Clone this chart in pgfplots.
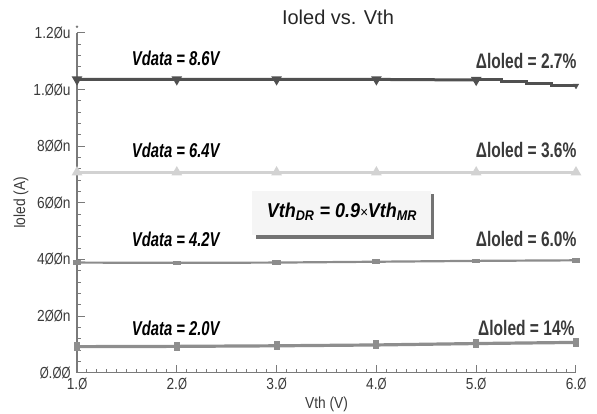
\documentclass[border=0pt]{standalone}
\usepackage{fontspec}
\setmainfont{Liberation Sans}
\newfontfamily\narrow[FakeStretch=0.74]{Liberation Sans}
\newfontfamily\semi[FakeStretch=0.86]{Liberation Sans}
\newfontfamily\zf[FakeStretch=0.72]{Liberation Sans}
\newfontfamily\boxf[FakeStretch=0.9]{Liberation Sans}
\newcommand\z{{\zf Ø}}
\usepackage{pgfplots}
\pgfplotsset{compat=1.18}
\definecolor{cA}{HTML}{505050}
\definecolor{cB}{HTML}{D2D2D2}
\definecolor{cC}{HTML}{8C8C8C}
\definecolor{cD}{HTML}{8E8E8E}
\definecolor{axc}{HTML}{7A7A7A}
\definecolor{txt}{HTML}{3A3A3A}
\begin{document}
\begin{tikzpicture}
\begin{axis}[
  scale only axis, width=499pt, height=339.7pt,
  anchor=south west, at={(0,0)},
  xmin=1, xmax=6, ymin=0, ymax=1.2,
  axis x line=bottom, axis y line=left,
  axis line style={-, axc, line width=1.2pt},
  tick align=inside,
  major tick length=8pt, minor tick length=4pt,
  tick style={axc, line width=1pt},
  xtick={1,2,3,4,5,6},
  xticklabels={1.\z,2.\z,3.\z,4.\z,5.\z,6.\z},
  ytick={0,0.2,0.4,0.6,0.8,1.0,1.2},
  yticklabels={\z.\z\z,2\z\z n,4\z\z n,6\z\z n,8\z\z n,1.\z\z u,1.2\z u},
  minor x tick num=9, minor y tick num=4,
  ticklabel style={font=\semi\fontsize{16}{16}\selectfont, text=txt},
  xticklabel style={yshift=-2pt},
  yticklabel style={xshift=-3pt},
  xlabel={Vth (V)}, ylabel={Ioled (A)},
  label style={font=\semi\fontsize{16}{16}\selectfont, text=txt},
  xlabel style={yshift=0pt},
  ylabel style={yshift=-2pt},
  clip=false,
]
\addplot[cA, line width=3pt, mark=triangle*, mark options={rotate=180, scale=1.6, solid}]
  coordinates {(1,1.036) (2,1.036) (3,1.036) (4,1.036) (5,1.034)};
\addplot[cA, line width=3pt, mark=none, const plot]
  coordinates {(5,1.034) (5.25,1.028) (5.5,1.022) (5.75,1.015) (6,1.014)};
\addplot[cA, only marks, mark=triangle*, mark options={rotate=180, scale=1.6}]
  coordinates {(6,1.014)};
\addplot[cB, line width=3pt, mark=triangle*, mark options={scale=1.6, solid}]
  coordinates {(1,0.708) (2,0.708) (3,0.708) (4,0.708) (5,0.708) (6,0.708)};
\addplot[cC, line width=2.2pt, mark=square*, mark options={xscale=1.5, yscale=0.6, scale=1.0, solid}]
  coordinates {(1,0.389) (2,0.388) (3,0.389) (4,0.392) (5,0.395) (6,0.397)};
\addplot[cD, line width=3.2pt, mark=square*, mark options={xscale=0.6, yscale=1.3, scale=1.1, solid}]
  coordinates {(1,0.092) (2,0.093) (3,0.095) (4,0.098) (5,0.103) (6,0.107)};
% annotations
\node[font=\narrow\bfseries\itshape\fontsize{20}{20}\selectfont, text=black] at (axis cs:1.99,1.111) {Vdata = 8.6V};
\node[font=\narrow\bfseries\itshape\fontsize{20}{20}\selectfont, text=black] at (axis cs:1.99,0.785) {Vdata = 6.4V};
\node[font=\narrow\bfseries\itshape\fontsize{20}{20}\selectfont, text=black] at (axis cs:1.99,0.471) {Vdata = 4.2V};
\node[font=\narrow\bfseries\itshape\fontsize{20}{20}\selectfont, text=black] at (axis cs:1.99,0.158) {Vdata = 2.0V};
\node[anchor=east, font=\narrow\bfseries\fontsize{21}{21}\selectfont, text=txt] at (axis cs:6.04,1.100) {Δloled = 2.7\%};
\node[anchor=east, font=\narrow\bfseries\fontsize{21}{21}\selectfont, text=txt] at (axis cs:6.04,0.785) {Δloled = 3.6\%};
\node[anchor=east, font=\narrow\bfseries\fontsize{21}{21}\selectfont, text=txt] at (axis cs:6.04,0.471) {Δloled = 6.0\%};
\node[anchor=east, font=\narrow\bfseries\fontsize{21}{21}\selectfont, text=txt] at (axis cs:6.02,0.159) {Δloled = 14\%};
% box
\fill[black!55] (axis cs:2.79,0.630) rectangle (axis cs:4.575,0.474);
\fill[black!4] (axis cs:2.754,0.642) rectangle (axis cs:4.545,0.486);
\node[font=\boxf\bfseries\itshape\fontsize{20}{20}\selectfont] at (axis cs:3.655,0.567)
  {Vth\textsubscript{DR} = 0.9{\mdseries\fontsize{15}{15}\selectfont×}Vth\textsubscript{MR}};
% title
\node[font=\fontsize{20}{20}\selectfont, text=black!85] at (axis cs:3.615,1.256) {Ioled vs. Vth};
\fill[axc] (axis cs:1,1.222) circle (1.3pt);
\end{axis}
\pgfresetboundingbox
\path (-77pt,-41.3pt) rectangle (520pt,372.7pt);
\end{tikzpicture}
\end{document}
